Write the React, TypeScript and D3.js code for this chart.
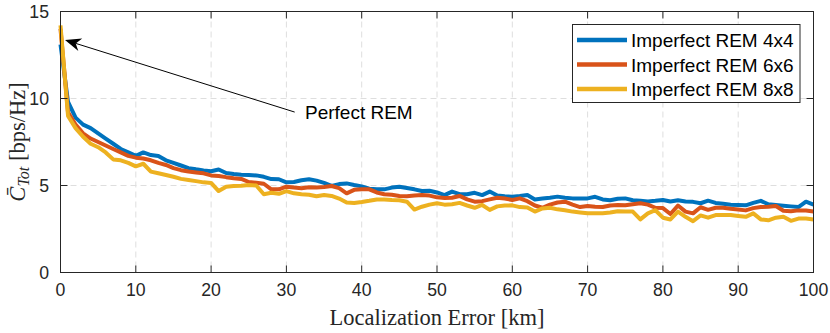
import React from "react";
import * as d3 from "d3";

const xValues: number[] = d3.range(0, 101, 1);

const rem4x4: number[] = [
  13.1, 9.8, 8.9, 8.5, 8.3, 8.0, 7.7, 7.4, 7.1, 6.9,
  6.7, 6.9, 6.75, 6.7, 6.45, 6.3, 6.15, 6.0, 5.93, 5.87,
  5.82, 5.92, 5.72, 5.66, 5.62, 5.6, 5.58, 5.5, 5.37, 5.36,
  5.18, 5.2, 5.3, 5.36, 5.28, 5.15, 4.98, 5.08, 5.12, 5.03,
  4.95, 4.82, 4.78, 4.78, 4.88, 4.93, 4.86, 4.78, 4.68, 4.7,
  4.6, 4.45, 4.65, 4.5, 4.5, 4.58, 4.45, 4.65, 4.42, 4.38,
  4.36, 4.4, 4.45, 4.2, 4.25, 4.3, 4.36, 4.3, 4.26, 4.26,
  4.26, 4.35, 4.2, 4.15, 4.24, 4.26, 4.15, 4.12, 4.08, 4.12,
  4.17, 4.08, 4.15, 4.08, 4.06, 3.98, 4.13, 4.0, 3.95, 3.9,
  3.88, 3.86, 4.0, 4.12, 3.92, 3.88, 3.84, 3.8, 3.76, 4.07,
  3.9,
];

const rem6x6: number[] = [
  14.0, 9.2, 8.5, 8.0, 7.7, 7.5, 7.3, 7.1, 6.9, 6.7,
  6.6, 6.55, 6.45, 6.3, 6.18, 6.0, 5.88, 5.8, 5.75, 5.7,
  5.58, 5.55, 5.48, 5.42, 5.38, 5.2, 5.16, 5.1, 4.78, 4.78,
  4.93, 4.88, 4.84, 4.9, 4.88, 4.92, 4.97, 4.85, 4.55, 4.75,
  4.78, 4.78, 4.6, 4.5, 4.47, 4.4, 4.38, 4.42, 4.45, 4.42,
  4.32, 4.28, 4.3, 4.4, 4.2, 4.07, 4.1, 4.2, 4.3, 4.25,
  4.17, 4.26, 4.1, 3.85, 3.72, 3.9, 4.02, 4.07, 3.9, 3.76,
  3.82, 3.78, 3.76, 3.85, 3.88, 3.86, 3.92, 3.98, 3.9, 3.72,
  3.7, 3.36, 3.85, 3.5, 3.4, 3.75, 3.6, 3.72, 3.72, 3.66,
  3.62, 3.57, 3.7, 3.76, 3.78, 3.82, 3.55, 3.52, 3.57, 3.56,
  3.5,
];

const rem8x8: number[] = [
  14.2, 9.0, 8.3, 7.8, 7.4, 7.2, 6.9, 6.5, 6.45, 6.3,
  6.1, 6.25, 5.8, 5.7, 5.6, 5.5, 5.38, 5.32, 5.25, 5.18,
  5.15, 4.68, 4.93, 4.97, 4.98, 5.03, 5.0, 4.5, 4.58, 4.52,
  4.68, 4.55, 4.5, 4.47, 4.38, 4.45, 4.4, 4.25, 4.02, 4.0,
  4.05, 4.12, 4.2, 4.2, 4.16, 4.15, 4.07, 3.62, 3.78, 3.9,
  3.98, 3.9, 3.92, 4.0, 3.85, 3.72, 3.88, 3.6, 3.8, 3.85,
  3.86, 3.76, 3.74, 3.5, 3.68, 3.72, 3.63, 3.58, 3.5, 3.45,
  3.4, 3.4, 3.4, 3.45, 3.52, 3.5, 3.5, 3.05, 3.4, 3.58,
  3.15, 3.05, 3.5, 3.2, 2.95, 3.28, 3.15, 3.3, 3.3, 3.3,
  3.25, 3.2, 3.4, 3.05, 3.0, 3.15, 3.2, 2.97, 3.1, 3.1,
  3.05,
];

const seriesNames: string[] = ["Imperfect REM 4x4", "Imperfect REM 6x6", "Imperfect REM 8x8"];
const seriesColors: string[] = ["#0072BD", "#D95319", "#EDB120"];
const xTicks: number[] = [0, 10, 20, 30, 40, 50, 60, 70, 80, 90, 100];
const yTicks: number[] = [0, 5, 10, 15];

const annotationText = "Perfect REM";
const arrowTip: [number, number] = [0.6, 13.36];
const arrowTail: [number, number] = [31.1, 9.22];

const W = 830;
const H = 333;
const left = 60.5;
const right = 813.5;
const top = 11.5;
const bottom = 272.5;

export default function App() {
  const x = d3.scaleLinear().domain([0, 100]).range([left, right]);
  const y = d3.scaleLinear().domain([0, 15]).range([bottom, top]);
  const line = d3
    .line<number>()
    .x((_, i) => x(xValues[i]))
    .y((d) => y(d));
  const allSeries = [rem4x4, rem6x6, rem8x8];
  const axisColor = "#262626";
  const gridColor = "#dedede";
  const tickLen = 7;
  const sans = "'Liberation Sans', Arial, sans-serif";
  const serif = "'Liberation Serif', 'DejaVu Serif', serif";

  const tx = x(arrowTip[0]);
  const ty = y(arrowTip[1]);
  const sx = x(arrowTail[0]);
  const sy = y(arrowTail[1]);
  const ang = Math.atan2(ty - sy, tx - sx);
  const ahLen = 16;
  const ahW = 6.5;
  const back = (l: number, w: number) => [
    tx - l * Math.cos(ang) - w * Math.sin(ang),
    ty - l * Math.sin(ang) + w * Math.cos(ang),
  ];
  const p1 = back(ahLen, ahW);
  const p2 = back(ahLen * 0.7, 0);
  const p3 = back(ahLen, -ahW);

  const legX = 572.5;
  const legY = 24.5;
  const legW = 227.5;
  const legH = 78;

  return (
    <svg width={W} height={H} style={{ display: "block", position: "absolute", left: 0, top: 0 }}>
      <rect x={0} y={0} width={W} height={H} fill="#ffffff" />
      {xTicks.slice(1, -1).map((t) => (
        <line key={"gx" + t} x1={x(t)} x2={x(t)} y1={top} y2={bottom} stroke={gridColor} strokeWidth={1} strokeDasharray="6,4" />
      ))}
      {yTicks.slice(1, -1).map((t) => (
        <line key={"gy" + t} x1={left} x2={right} y1={y(t)} y2={y(t)} stroke={gridColor} strokeWidth={1} strokeDasharray="6,4" />
      ))}
      {allSeries.map((s, i) => (
        <path key={"s" + i} d={line(s) || ""} fill="none" stroke={seriesColors[i]} strokeWidth={4} strokeLinejoin="round" strokeLinecap="butt" />
      ))}
      <rect x={left} y={top} width={right - left} height={bottom - top} fill="none" stroke={axisColor} strokeWidth={1} />
      {xTicks.map((t) => (
        <g key={"tx" + t}>
          <line x1={x(t)} x2={x(t)} y1={bottom} y2={bottom - tickLen} stroke={axisColor} />
          <line x1={x(t)} x2={x(t)} y1={top} y2={top + tickLen} stroke={axisColor} />
          <text x={x(t)} y={296} textAnchor="middle" fontFamily={sans} fontSize={19} fill={axisColor} transform={`translate(${x(t)},0) scale(0.93,1) translate(${-x(t)},0)`}>
            {t}
          </text>
        </g>
      ))}
      {yTicks.map((t) => (
        <g key={"ty" + t}>
          <line x1={left} x2={left + tickLen} y1={y(t)} y2={y(t)} stroke={axisColor} />
          <line x1={right} x2={right - tickLen} y1={y(t)} y2={y(t)} stroke={axisColor} />
          <text x={49} y={y(t) + 7} textAnchor="end" fontFamily={sans} fontSize={19} fill={axisColor} transform={`translate(49,0) scale(0.93,1) translate(-49,0)`}>
            {t}
          </text>
        </g>
      ))}
      <text x={(left + right) / 2} y={325} textAnchor="middle" fontFamily={serif} fontSize={22.5} fill={axisColor}>
        Localization Error [km]
      </text>
      <text transform={`translate(25,${(top + bottom) / 2}) rotate(-90)`} textAnchor="middle" fontFamily={serif} fontSize={22.5} fill={axisColor}>
        <tspan fontStyle="italic">{"C\u0304"}</tspan>
        <tspan fontStyle="italic" fontSize={16} dy={4}>Tot</tspan>
        <tspan dy={-4}>{" [bps/Hz]"}</tspan>
      </text>
      <line x1={sx} y1={sy} x2={p2[0]} y2={p2[1]} stroke="#000" strokeWidth={1} />
      <polygon points={`${tx},${ty} ${p1[0]},${p1[1]} ${p2[0]},${p2[1]} ${p3[0]},${p3[1]}`} fill="#000" />
      <text x={305} y={119} fontFamily={sans} fontSize={19} fill="#000">
        {annotationText}
      </text>
      <rect x={legX} y={legY} width={legW} height={legH} fill="#ffffff" stroke={axisColor} strokeWidth={1} />
      {seriesNames.map((n, i) => (
        <g key={"l" + i}>
          <line x1={577} x2={627} y1={40 + i * 24.5} y2={40 + i * 24.5} stroke={seriesColors[i]} strokeWidth={4.5} />
          <text x={631} y={40 + i * 24.5 + 7} fontFamily={sans} fontSize={19} fill="#000">
            {n}
          </text>
        </g>
      ))}
    </svg>
  );
}
